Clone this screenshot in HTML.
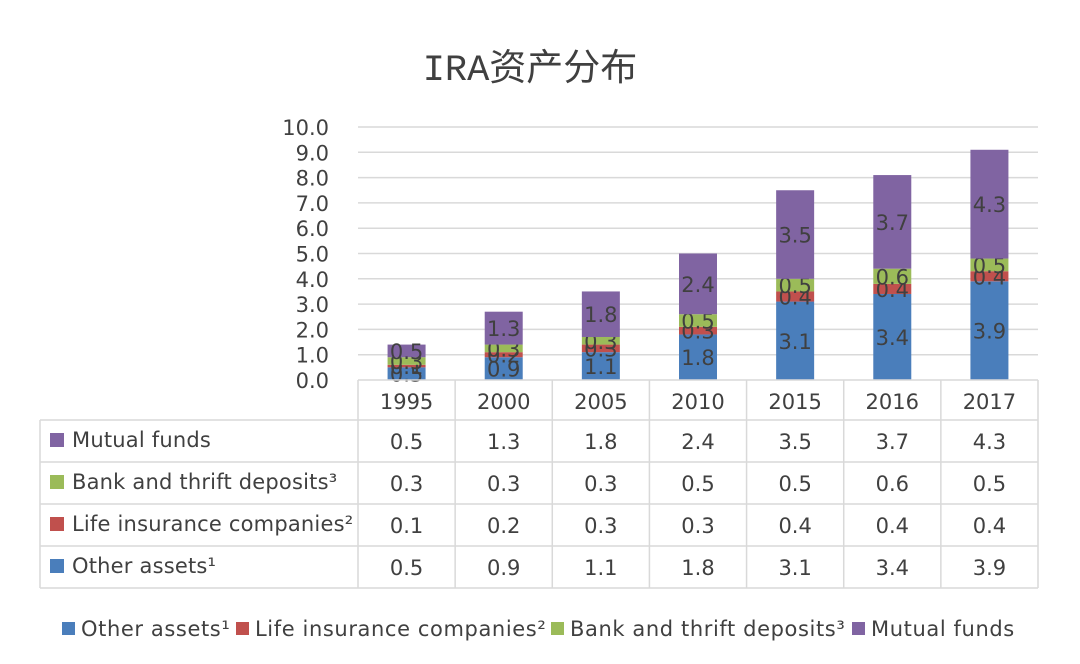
<!DOCTYPE html>
<html><head><meta charset="utf-8"><style>
html,body{margin:0;padding:0;background:#fff;}
svg{display:block;font-family:"DejaVu Sans","Liberation Sans","Noto Sans CJK SC",sans-serif;}
</style></head><body>
<svg id="chart" width="1080" height="664" viewBox="0 0 1080 664" xmlns="http://www.w3.org/2000/svg">
<text x="530" y="80" text-anchor="middle" font-size="37" fill="#404040" font-family="'Liberation Mono','Noto Sans CJK SC',sans-serif">IRA资产分布</text>
<g id="grid"></g><g id="yaxis"></g><g id="bars"></g><g id="table"></g><g id="legend"></g>
</svg>
<script>
const categories = ["1995","2000","2005","2010","2015","2016","2017"];
const seriesNames = ["Other assets¹","Life insurance companies²","Bank and thrift deposits³","Mutual funds"];
const otherAssets = [0.5,0.9,1.1,1.8,3.1,3.4,3.9];
const lifeInsurance = [0.1,0.2,0.3,0.3,0.4,0.4,0.4];
const bankDeposits = [0.3,0.3,0.3,0.5,0.5,0.6,0.5];
const mutualFunds = [0.5,1.3,1.8,2.4,3.5,3.7,4.3];
const yTicks = [0,1,2,3,4,5,6,7,8,9,10];
const colors = ["#4a7ebb","#c0504d","#9bbb59","#8064a2"];
const series = [otherAssets,lifeInsurance,bankDeposits,mutualFunds];
const NS="http://www.w3.org/2000/svg";
const plotL=358, plotR=1038, y0=380, y10=127, yMax=10;
const colW=(plotR-plotL)/categories.length, barW=38;
const yS=v=>y0-(v/yMax)*(y0-y10);
const xC=i=>plotL+colW*(i+0.5);
function mk(tag,attrs,parent,txt){const e=document.createElementNS(NS,tag);for(const k in attrs)e.setAttribute(k,attrs[k]);if(txt!==undefined)e.textContent=txt;parent.appendChild(e);return e;}
const grid=document.getElementById('grid'),yax=document.getElementById('yaxis'),bars=document.getElementById('bars'),tbl=document.getElementById('table'),leg=document.getElementById('legend');
const TC='#404040', FS=21, LS=0.6;
yTicks.forEach(t=>{
  if(t>0){const l=mk('line',{x1:plotL,x2:plotR,y1:yS(t),y2:yS(t),stroke:'#d9d9d9','stroke-width':1.5},grid);
  
  }
  const tx=mk('text',{x:329,y:yS(t)+8,'text-anchor':'end','font-size':FS,fill:TC},yax,t.toFixed(1));
  
  
});
categories.forEach((c,i)=>{
  let acc=0;
  series.forEach((s,si)=>{
    const v=s[i];
    const r=mk('rect',{x:xC(i)-barW/2,y:yS(acc+v),width:barW,height:yS(acc)-yS(acc+v),fill:colors[si]},bars);
    
    
    const lb=mk('text',{x:xC(i),y:(yS(acc)+yS(acc+v))/2+8,'text-anchor':'middle','font-size':FS,fill:TC},bars,v.toFixed(1));
    
    
    acc+=v;
  });
});
const rowTops=[380,420,462,504,546,588];
const lc='#d9d9d9';
function line(x1,y1,x2,y2){const l=mk('line',{x1,y1,x2,y2,stroke:lc,'stroke-width':1.5},tbl);
  
  }
line(plotL,380,plotR,380);
for(let r=1;r<rowTops.length;r++) line(40,rowTops[r],plotR,rowTops[r]);
line(40,420,40,588);
for(let i=0;i<=categories.length;i++) line(plotL+colW*i,380,plotL+colW*i,588);
categories.forEach((c,i)=>{
  const t=mk('text',{x:xC(i),y:409,'text-anchor':'middle','font-size':FS,fill:TC},tbl,c);
  
  
});
const rowOrder=[3,2,1,0];
rowOrder.forEach((si,r)=>{
  const yt=rowTops[r+1], yb=rowTops[r+2], ym=(yt+yb)/2;
  const sw=mk('rect',{x:50,y:ym-8,width:14,height:14,fill:colors[si]},tbl);
  
  
  const nm=mk('text',{x:72,y:ym+6,'font-size':FS,'letter-spacing':0.2,fill:TC},tbl,seriesNames[si]);
  
  
  categories.forEach((c,i)=>{
    const v=mk('text',{x:xC(i),y:ym+8,'text-anchor':'middle','font-size':FS,fill:TC},tbl,series[si][i].toFixed(1));
    
    
  });
});
const legX=[62,236,551,852];
seriesNames.forEach((n,si)=>{
  const g=mk('g',{},leg);
  
  
  mk('rect',{x:legX[si],y:622,width:13,height:13,fill:colors[si]},g);
  mk('text',{x:legX[si]+19,y:636,'font-size':FS,'letter-spacing':LS,fill:TC},g,n);
});
</script>
</body></html>
